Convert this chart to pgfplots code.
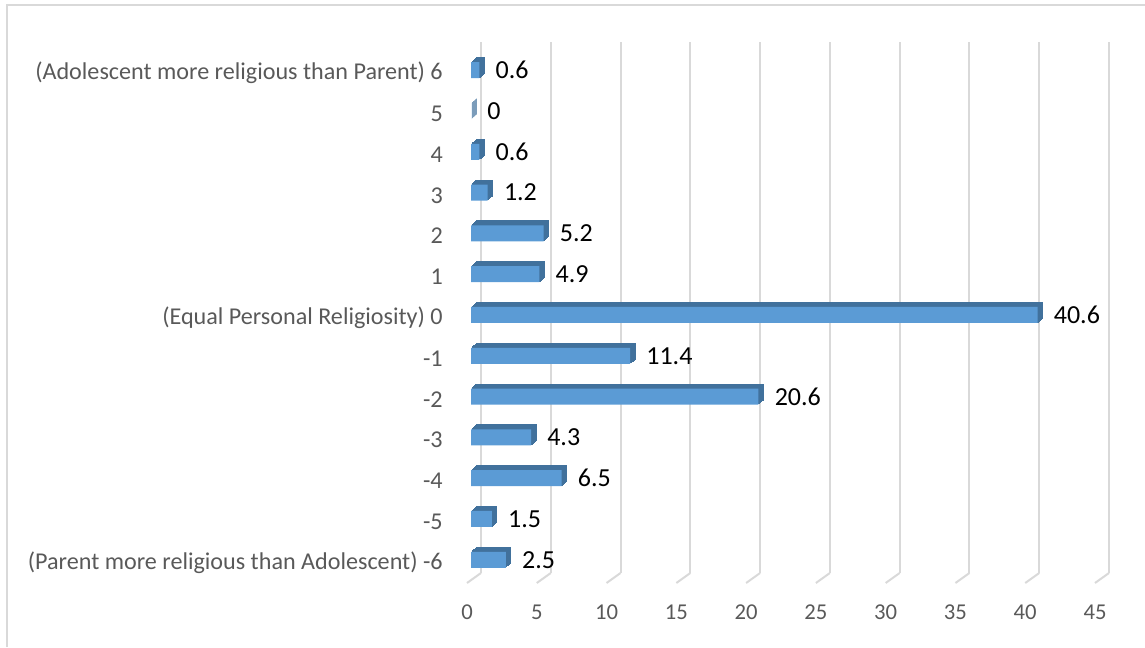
\documentclass[border=0pt]{standalone}
\usepackage{pgfplots}
\pgfplotsset{compat=1.18}
\usepackage{fontspec}
\setmainfont{Carlito}
\definecolor{barfront}{HTML}{5B9BD5}
\definecolor{barside}{HTML}{41719C}
\definecolor{gridc}{HTML}{D9D9D9}
\definecolor{labc}{HTML}{595959}
\begin{document}
\begin{tikzpicture}
\useasboundingbox (0,0) rectangle (858.75pt,485.25pt);
\draw[gridc, line width=1.1pt] (5.25pt,0) -- (5.25pt,481.5pt) -- (858.75pt,481.5pt);
\begin{axis}[
  at={(360.75pt,55.5pt)}, anchor=south west,
  scale only axis, width=471pt, height=398.25pt,
  xmin=0, xmax=45, ymin=-6.324, ymax=6.691,
  xtick={0,5,...,45}, ytick={-6,...,6},
  yticklabels={{(Parent more religious than Adolescent) -6},-5,-4,-3,-2,-1,{(Equal Personal Religiosity) 0},1,2,3,4,5,{(Adolescent more religious than Parent) 6}},
  /pgf/number format/assume math mode=true,
  axis line style={draw=none},
  major tick length=0pt,
  xmajorgrids, grid style={gridc, line width=1.5pt},
  xticklabel style={font=\fontsize{17pt}{20pt}\selectfont, text=labc, anchor=center, inner sep=0pt, xshift=-10.5pt, yshift=-29.25pt},
  yticklabel style={font=\fontsize{18.1pt}{20pt}\selectfont, text=labc, anchor=east, inner sep=0pt, xshift=-28.5pt, yshift=-2pt},
  clip=false,
]
\pgfplotsinvokeforeach{0,5,...,45}{
  \draw[gridc, line width=1.5pt] (axis cs:#1,-6.324) -- ++(-10.5pt,-7.5pt);
}
\pgfplotsinvokeforeach{5,4,3,2,1}{
\addplot[xbar, bar width=12pt, bar shift=0pt, draw=barside, line width=0.75pt, fill=barside, xshift=-7.5pt+#1*0.75pt, yshift=#1*0.675pt] coordinates {
(0.6,6) (0,5) (0.6,4) (1.2,3) (5.2,2) (4.9,1) (40.6,0) (11.4,-1) (20.6,-2) (4.3,-3) (6.5,-4) (1.5,-5) (2.5,-6)};
}
\addplot[xbar, bar width=12pt, bar shift=0pt, draw=none, fill=barfront, xshift=-7.5pt,
  nodes near coords, nodes near coords style={anchor=west, inner sep=0pt, xshift=12pt, text=black, font=\fontsize{19.5pt}{22pt}\selectfont}] coordinates {
(0.6,6) (0,5) (0.6,4) (1.2,3) (5.2,2) (4.9,1) (40.6,0) (11.4,-1) (20.6,-2) (4.3,-3) (6.5,-4) (1.5,-5) (2.5,-6)};
\end{axis}
\end{tikzpicture}
\end{document}
